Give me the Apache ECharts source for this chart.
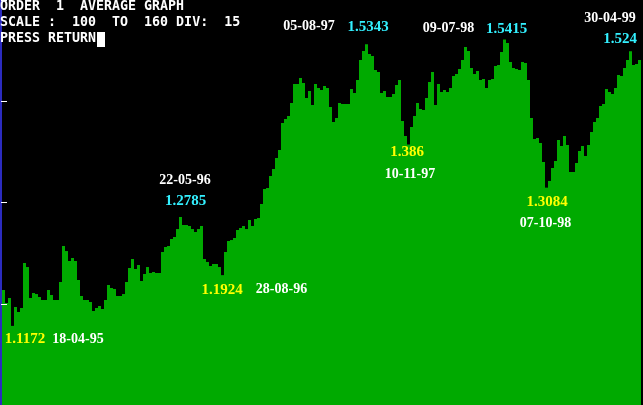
<!DOCTYPE html>
<html><head><meta charset="utf-8">
<script src="https://cdn.jsdelivr.net/npm/echarts@6/dist/echarts.min.js"></script>
<style>html,body{margin:0;padding:0;background:#000;overflow:hidden}#c{width:643px;height:405px;}</style>
</head><body><div id="c"></div>
<script>
// weekly average values (scale 1.00 .. 1.60)
const avgValues = [
1.1704,1.1511,1.1585,1.1172,1.1452,1.1378,1.1437,1.2104,1.2044,1.1585,
1.1659,1.1644,1.1600,1.1556,1.1556,1.1704,1.1630,1.1556,1.1556,1.1822,
1.2356,1.2281,1.2133,1.2178,1.2133,1.1852,1.1615,1.1556,1.1556,1.1526,
1.1393,1.1437,1.1467,1.1422,1.1556,1.1778,1.1733,1.1719,1.1615,1.1615,
1.1644,1.1822,1.2030,1.2163,1.2015,1.2074,1.1837,1.1941,1.2044,1.1956,
1.1970,1.1956,1.1956,1.2267,1.2341,1.2356,1.2459,1.2489,1.2607,1.2785,
1.2667,1.2667,1.2652,1.2607,1.2563,1.2607,1.2652,1.2163,1.2119,1.2059,
1.2089,1.2089,1.2044,1.1924,1.2267,1.2430,1.2444,1.2474,1.2593,1.2622,
1.2652,1.2607,1.2741,1.2652,1.2756,1.2770,1.2978,1.3200,1.3215,1.3393,
1.3496,1.3659,1.3778,1.4178,1.4237,1.4281,1.4474,1.4756,1.4756,1.4844,
1.4770,1.4548,1.4652,1.4444,1.4756,1.4696,1.4667,1.4726,1.4696,1.4415,
1.4193,1.4252,1.4474,1.4459,1.4459,1.4459,1.4681,1.4622,1.4815,1.5111,
1.5244,1.5343,1.5200,1.5170,1.4963,1.4933,1.4622,1.4652,1.4563,1.4563,
1.4607,1.4741,1.4815,1.4207,1.3985,1.3860,1.4119,1.4281,1.4474,1.4385,
1.4370,1.4548,1.4785,1.4933,1.4444,1.4756,1.4637,1.4667,1.4637,1.4696,
1.4874,1.4904,1.4978,1.5111,1.5304,1.5244,1.4993,1.4904,1.4948,1.4815,
1.4830,1.4696,1.4815,1.4830,1.5022,1.5037,1.5230,1.5415,1.5363,1.5081,
1.4993,1.4978,1.4963,1.5081,1.5067,1.4815,1.4252,1.3941,1.3956,1.3881,
1.3600,1.3220,1.3319,1.3511,1.3615,1.3926,1.3837,1.3985,1.3852,1.3452,
1.3452,1.3585,1.3763,1.3837,1.3689,1.3852,1.4044,1.4193,1.4252,1.4430,
1.4459,1.4681,1.4637,1.4607,1.4696,1.4889,1.4874,1.4993,1.5111,1.5240,
1.5037,1.5052,1.5111
];
// week categories
const startDate = new Date(1995, 2, 28);
const weeks = avgValues.map((_, i) => {
  const d = new Date(startDate.getTime() + i * 7 * 86400000);
  return ('0'+d.getDate()).slice(-2) + '-' + ('0'+(d.getMonth()+1)).slice(-2) + '-' + String(d.getFullYear()).slice(-2);
});
// annotated turning points
const markIdx  = [3, 59, 73, 121, 135, 167, 181, 209];
const markDate = ['18-04-95','22-05-96','28-08-96','05-08-97','10-11-97','09-07-98','07-10-98','30-04-99'];
const markVal  = ['1.1172','1.2785','1.1924','1.5343','1.386','1.5415','1.3084','1.524'];
const markKind = ['low','high','low','high','low','high','low','high'];
// header text
const headerLines = ['ORDER  1  AVERAGE GRAPH', 'SCALE :  100  TO  160 DIV:  15', 'PRESS RETURN'];
const yMin = 1.0, yMax = 1.6, yDiv = 0.15;

// label offsets (layout only) relative to the marked bar: [dx,dy] for value and date
const markLayout = [
  {v:[12.5,13.5], d:[65.5,14]},
  {v:[5,-15.5],  d:[4.5,-37]},
  {v:[-0.5,14.5], d:[59,14.5]},
  {v:[1.5,-17],  d:[-57.5,-18]},
  {v:[-1.5,7.5], d:[1.5,29.5]},
  {v:[2,-10],    d:[-56,-11.5]},
  {v:[0.5,14],   d:[-1,35.5]},
  {v:[-10.5,-12], d:[-20.5,-33]}
];

const chart = echarts.init(document.getElementById('c'), null, {renderer:'canvas'});
chart.setOption({
  backgroundColor: '#000000',
  animation: false,
  grid: {left: 2, right: 2, top: 0, bottom: 0, containLabel: false},
  xAxis: {type: 'category', data: weeks, show: false, boundaryGap: true},
  yAxis: {
    type: 'value', min: yMin, max: yMax, interval: yDiv, offset: 1, z: 5,
    axisLine: {show: true, lineStyle: {color: '#3a3aff', width: 1.5}},
    axisTick: {show: true, inside: true, length: 6, lineStyle: {color: '#ffffff', width: 1}},
    axisLabel: {show: false}, splitLine: {show: false}
  },
  series: [{
    type: 'bar', data: avgValues, barCategoryGap: '0%', barGap: '0%',
    itemStyle: {color: '#00aa00'}, silent: true, z: 2
  }]
});

const g = [];
const monoFont = 'bold 13.3px "DejaVu Sans Mono", monospace';
headerLines.forEach((t, i) => {
  g.push({type: 'text', x: 0, y: 7 + i * 16, z: 10,
    style: {text: t, fill: '#ffffff', font: monoFont, align: 'left', verticalAlign: 'middle'}});
});
g.push({type: 'rect', shape: {x: 97, y: 32, width: 8, height: 15}, style: {fill: '#ffffff'}, z: 10});

const dateFont = 'bold 14px "Liberation Serif", "Times New Roman", serif';
const valFont = 'bold 15px "Liberation Serif", "Times New Roman", serif';
markIdx.forEach((idx, k) => {
  const p = chart.convertToPixel({xAxisIndex: 0, yAxisIndex: 0}, [idx, avgValues[idx]]);
  const L = markLayout[k];
  const valColor = markKind[k] === 'low' ? '#ffff00' : '#33f0ff';
  g.push({type: 'text', x: p[0] + L.v[0], y: p[1] + L.v[1], z: 10,
    style: {text: markVal[k], fill: valColor, font: valFont, align: 'center', verticalAlign: 'middle'}});
  g.push({type: 'text', x: p[0] + L.d[0], y: p[1] + L.d[1], z: 10,
    style: {text: markDate[k], fill: '#ffffff', font: dateFont, align: 'center', verticalAlign: 'middle'}});
});
chart.setOption({graphic: g});
</script>
</body></html>
